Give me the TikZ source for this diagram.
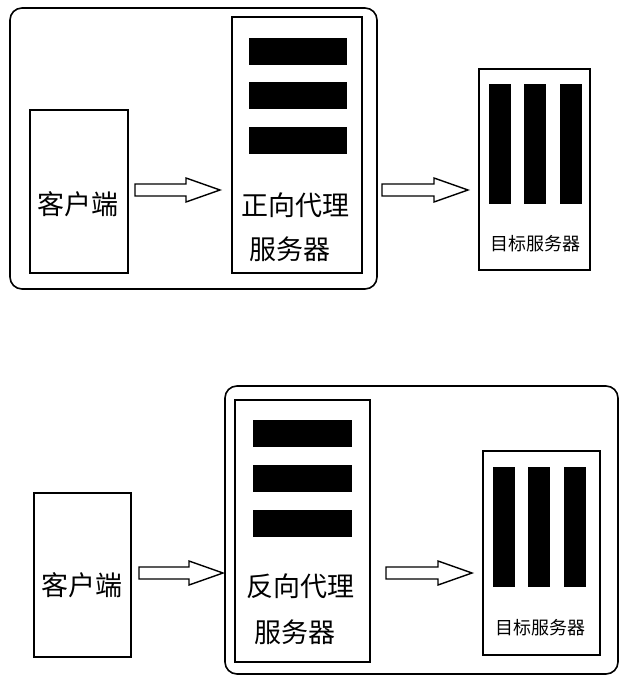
\documentclass[tikz,border=0pt]{standalone}
\usepackage{fontspec}
\newfontfamily\cjk{Noto Sans CJK SC}
\usetikzlibrary{calc}
\begin{document}
\begin{tikzpicture}[x=1pt,y=-1pt,line width=1.6pt,
  frame/.style={draw,rounded corners=12pt},
  bx/.style={draw},
  bar/.style={fill=black},
  harrow/.style={draw,line width=1.4pt,line join=miter},
  big/.style={font=\cjk\fontsize{27}{30}\selectfont},
  small/.style={font=\cjk\fontsize{18}{20}\selectfont}]
\newcommand\hollowarrow[2]{%
  \draw[harrow] ($(#1)+(0,-6)$) -- ($(#2)+(-34,-6)$) -- ($(#2)+(-34,-12)$) -- (#2) -- ($(#2)+(-34,12)$) -- ($(#2)+(-34,6)$) -- ($(#1)+(0,6)$) -- cycle;}
\useasboundingbox (0,0) rectangle (640,689);
% top
\draw[frame] (10,8) rectangle (377,289);
\draw[bx] (30,110) rectangle (128,273);
\node[big] (c1) at (78,204) {客户端};
\draw[bx] (232,17) rectangle (362,273);
\foreach \y in {38,82,127} \fill[bar] (249,\y) rectangle (347,\y+27);
\node[big] (p1) at (295,205) {正向代理};
\node[big] (p1b) at (290,249) {服务器};
\coordinate (a1s) at (135,190); \coordinate (a1e) at (220,190);
\coordinate (a2s) at (382,190); \coordinate (a2e) at (468,190);
\draw[bx] (479,69) rectangle (590,270);
\foreach \x in {489,524,560} \fill[bar] (\x,84) rectangle (\x+22,204);
\node[small] (t1) at (535,244) {目标服务器};
% bottom
\draw[frame] (225,386) rectangle (618,674);
\draw[bx] (34,493) rectangle (131,657);
\node[big] (c2) at (82,585) {客户端};
\draw[bx] (235,400) rectangle (370,662);
\foreach \y in {420,465,510} \fill[bar] (253,\y) rectangle (352,\y+27);
\node[big] (p2) at (300,586) {反向代理};
\node[big] (p2b) at (295,632) {服务器};
\coordinate (a3s) at (139,573); \coordinate (a3e) at (223,573);
\coordinate (a4s) at (386,573); \coordinate (a4e) at (472,573);
\draw[bx] (483,451) rectangle (600,655);
\foreach \x in {493,528,564} \fill[bar] (\x,467) rectangle (\x+22,587);
\node[small] (t2) at (540,628) {目标服务器};
\hollowarrow{a1s}{a1e}
\hollowarrow{a2s}{a2e}
\hollowarrow{a3s}{a3e}
\hollowarrow{a4s}{a4e}
\end{tikzpicture}
\end{document}
